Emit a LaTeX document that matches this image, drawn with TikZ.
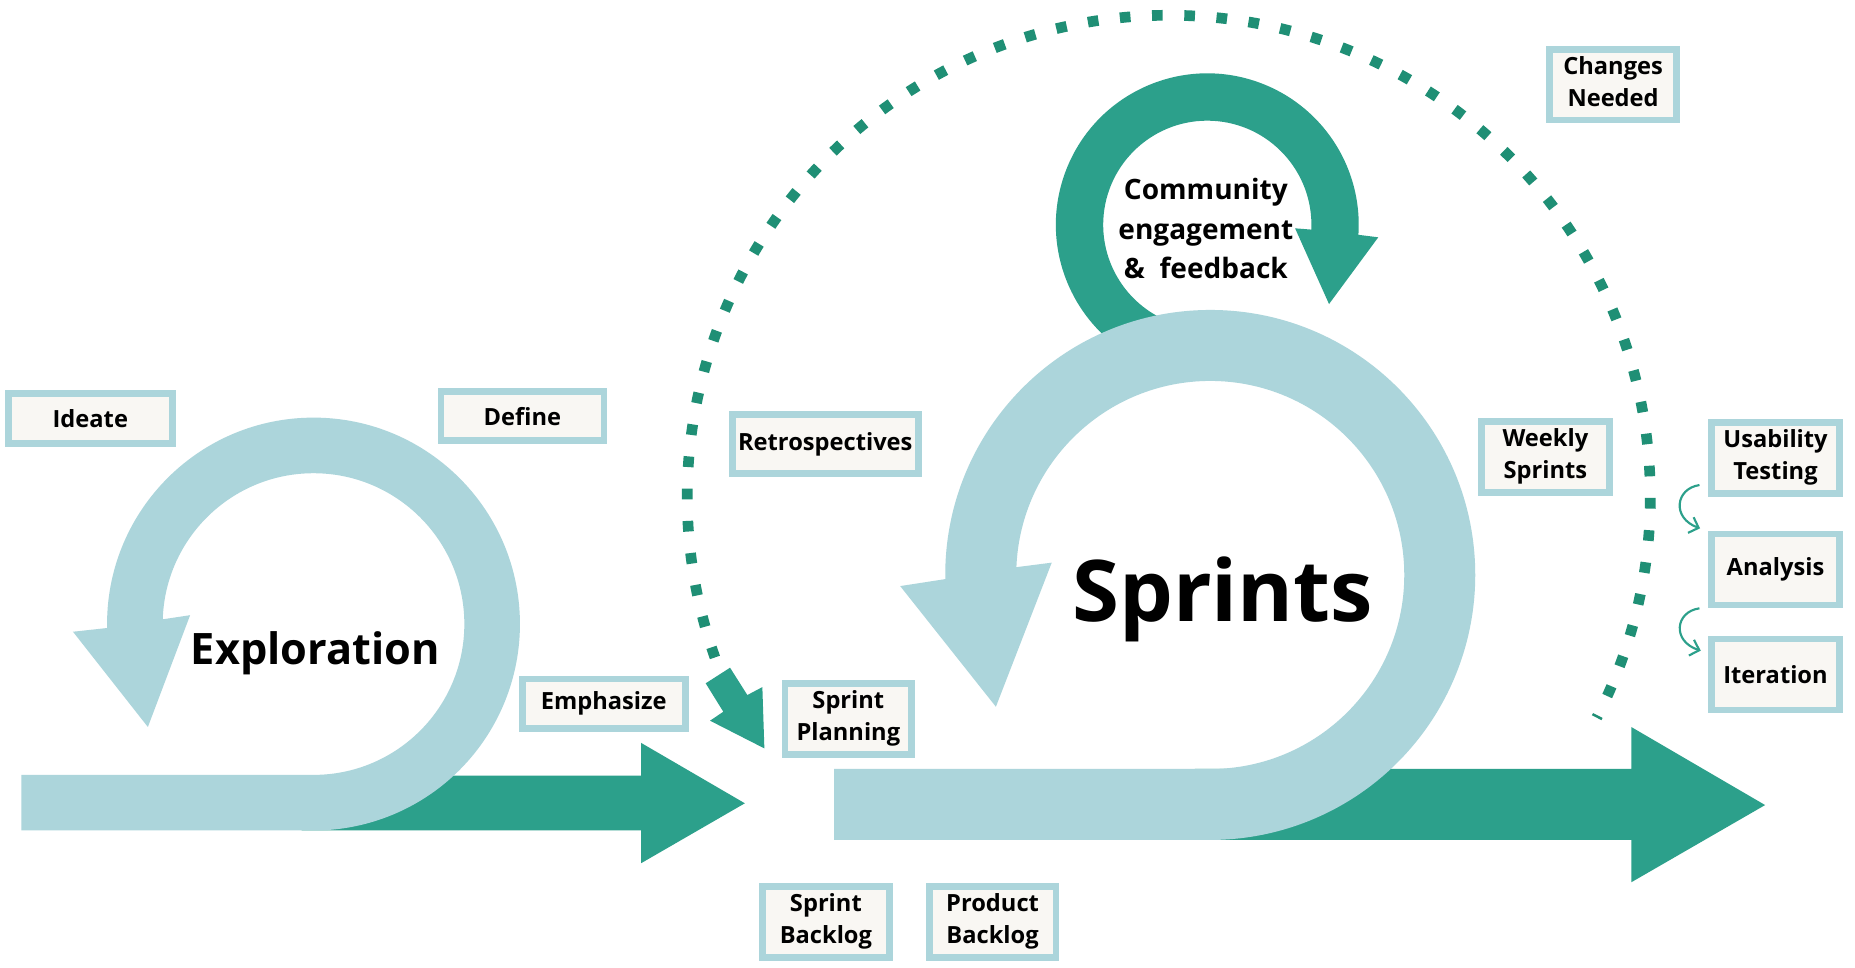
\documentclass[tikz,border=0pt]{standalone}
\usepackage{fontspec}
\setmainfont{Open Sans}
\usetikzlibrary{arrows.meta}
\definecolor{ringblue}{HTML}{ACD5DB}
\definecolor{arrowgreen}{HTML}{2CA08B}
\definecolor{dotgreen}{HTML}{1F8F75}
\definecolor{boxfill}{HTML}{F9F7F3}
\begin{document}
\begin{tikzpicture}[x=0.5pt,y=-0.5pt,
  lbl/.style 2 args={draw=ringblue, fill=boxfill, line width=2.8pt, inner sep=0pt,
    minimum width={#1*0.5pt-2.8pt}, minimum height={#2*0.5pt-2.8pt},
    align=center, text=black, font=\fontsize{10}{13.5}\selectfont\bfseries},
  twoline/.style={execute at end node={\rule[-3pt]{0pt}{3pt}}},
  ring/.style={fill=ringblue},
  garrow/.style={fill=arrowgreen},
  dots/.style={draw=dotgreen, line width=4.5pt, dash pattern=on 4.5pt off 9.135pt},
  smallarrow/.style={draw=arrowgreen, line width=0.9pt, -{Straight Barb[length=3.5pt,width=7pt]}},
  bigtext/.style={text=black, inner sep=0pt, anchor=base}
]
\useasboundingbox (0,0) rectangle (1568,818);
\fill[white] (0,0) rectangle (1568,818);

% dotted feedback arc
\draw[dots] ([shift={(-199.48:407)}]988,420) coordinate (dotstart)
   arc[start angle=-199.48, end angle=27.3, radius=407] coordinate (dotend);
\fill[arrowgreen] (596.5,577.6) -- (617.1,564.4) -- (631.7,587.5) -- (644.4,580.8)
   -- (646.1,632.6) -- (600.2,609.2) -- (611.4,601.6) -- cycle;

% exploration
\fill[garrow] (255,655.7) -- (542,655.7) -- (542,628) -- (629.6,679) -- (542,729.6)
   -- (542,702) -- (255,702) -- cycle;
\fill[ring] (18,655) -- (265,655) arc[start angle=90, end angle=-178.2, radius=127.5]
  -- (160.7,520) -- (125,614.5) -- (61.7,534)
  -- ([shift={(-181.1:174.5)}]265,527.5) arc[start angle=-181.1, end angle=90, radius=174.5]
  -- (18,702) -- cycle;

% sprints
\fill[garrow] (1010,650) -- (1379,650) -- (1379,614.6) -- (1492,680.5) -- (1379,745.7)
   -- (1379,710) -- (1010,710) -- cycle;
\fill[garrow] ([shift={(110:128)}]1020.5,190) arc[start angle=110, end angle=363.8, radius=128]
  -- (1165,200.6) -- (1123.4,257) -- (1094.7,193)
  -- ([shift={(362.65:88)}]1020.5,190) arc[start angle=362.65, end angle=110, radius=88] -- cycle;
\fill[ring] (705,650) -- (1023,650) arc[start angle=90, end angle=-177.7, radius=164]
  -- (889,475.6) -- (841.8,597.4) -- (760.9,495.4)
  -- ([shift={(-180.9:224)}]1023,486) arc[start angle=-180.9, end angle=90, radius=224]
  -- (705,710) -- cycle;

% big texts
\node[bigtext, font=\fontsize{18.3}{22}\selectfont\bfseries] (explo) at (266.5,562) {Exploration};
\node[bigtext, font=\fontsize{36}{40}\selectfont\bfseries] (sprints) at (1033.5,525) {Sprints};
\node[text=black, inner sep=0pt, align=center, font=\fontsize{11.85}{16.7}\selectfont\bfseries]
  (comm) at (1019.3,193.2) {Community\\engagement\\\&\hspace{0.52em}feedback};

% labels
\node[lbl={144.3}{47.8}] (ideate) at (76.35,353.6) {Ideate};
\node[lbl={143.2}{47}] (define) at (441.6,351.8) {Define};
\node[lbl={143.6}{47.5}] (emph) at (510.4,594.75) {Emphasize};
\node[lbl={162.8}{55.6}] (retro) at (697.6,375.2) {Retrospectives};
\node[lbl={112.8}{65.7}, twoline] (splan) at (717.1,607.65) {Sprint\\Planning};
\node[lbl={113.2}{65.6}, twoline] (sback) at (698.1,779.5) {Sprint\\Backlog};
\node[lbl={112.6}{65.6}, twoline] (pback) at (839,779.5) {Product\\Backlog};
\node[lbl={113}{65.3}, twoline] (changes) at (1363.5,71.55) {Changes\\Needed};
\node[lbl={113.5}{65.5}, twoline] (weekly) at (1306.25,386.25) {Weekly\\Sprints};
\node[lbl={113.6}{65.6}, twoline] (usab) at (1500.8,387) {Usability\\Testing};
\node[lbl={113.6}{65.6}] (analysis) at (1500.8,481.4) {Analysis};
\node[lbl={113.6}{65.6}] (iter) at (1500.8,570.15) {Iteration};

% small curved arrows
\coordinate (a1s) at (1436.5,410);
\coordinate (a1e) at (1437,446.6);
\coordinate (a2s) at (1436.5,514.2);
\coordinate (a2e) at (1437.6,550);
\draw[smallarrow] (a1s) .. controls (1416,413) and (1413,438) .. (a1e);
\draw[smallarrow] (a2s) .. controls (1416,517) and (1413,542) .. (a2e);
\end{tikzpicture}
\end{document}
